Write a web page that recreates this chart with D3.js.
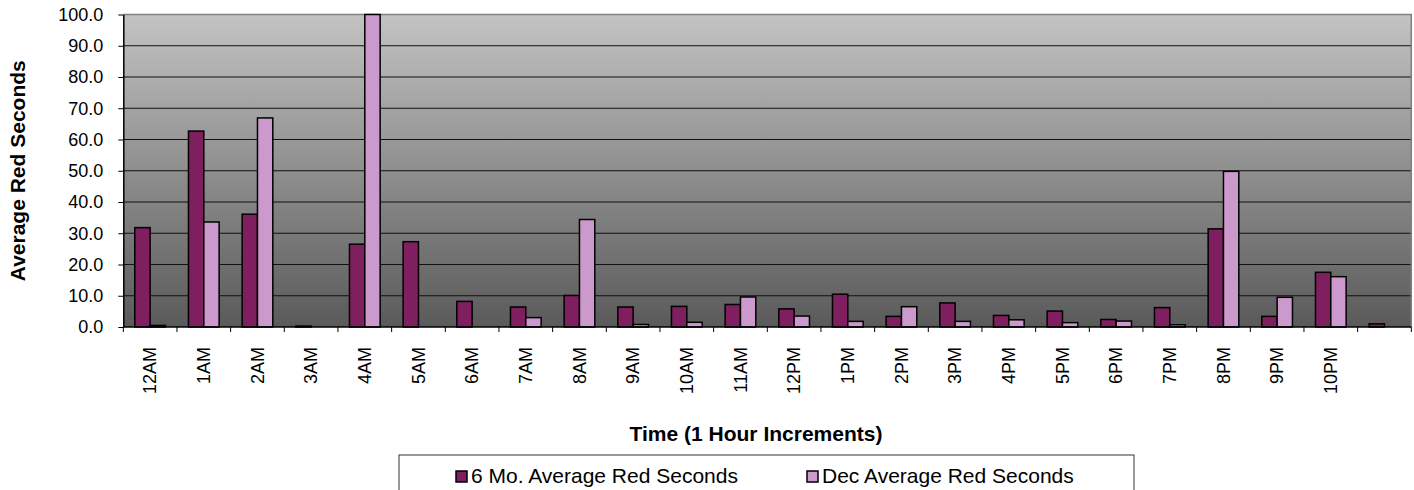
<!DOCTYPE html>
<html>
<head>
<meta charset="utf-8">
<script src="https://cdn.jsdelivr.net/npm/d3@7"></script>
<style>
  body { margin: 0; background: #fff; }
  text { font-family: Arial, "Liberation Sans", sans-serif; }
</style>
</head>
<body>
<svg id="chart" width="1414" height="490"></svg>
<script>
// categories (last hour has no label in the original)
var hours = ["12AM","1AM","2AM","3AM","4AM","5AM","6AM","7AM","8AM","9AM","10AM","11AM",
             "12PM","1PM","2PM","3PM","4PM","5PM","6PM","7PM","8PM","9PM","10PM","11PM"];
var hourLabels = hours.slice(0, 23).concat([""]);

var seriesNames = ["6 Mo. Average Red Seconds", "Dec Average Red Seconds"];
var sixMonth = [31.8, 62.7, 36.1, 0.3, 26.5, 27.3, 8.2, 6.4, 10.1, 6.4, 6.6, 7.2,
                5.8, 10.5, 3.4, 7.7, 3.7, 5.1, 2.4, 6.2, 31.4, 3.4, 17.5, 1.0];
var december = [0.5, 33.6, 66.9, 0, 100.0, 0, 0, 3.0, 34.4, 0.8, 1.5, 9.6,
                3.5, 1.8, 6.5, 1.8, 2.3, 1.4, 1.9, 0.7, 49.8, 9.5, 16.1, 0];
var seriesColors = ["#7f1f5f", "#cc99cc"];
var yTicks = [0, 10, 20, 30, 40, 50, 60, 70, 80, 90, 100];

var svg = d3.select("#chart");
var plotLeft = 123.3, plotRight = 1411.3, plotTop = 14.5, plotBottom = 327;

var x = d3.scaleBand().domain(hours).range([plotLeft, plotRight]).padding(0);
var xs = d3.scaleBand().domain([0, 1]).range([0, x.bandwidth()])
  .paddingInner(0).paddingOuter(0.75);
var y = d3.scaleLinear().domain([0, 100]).range([plotBottom, plotTop]);

// background gradient
var grad = svg.append("defs").append("linearGradient")
  .attr("id", "bg").attr("x1", 0).attr("y1", 0).attr("x2", 0).attr("y2", 1);
grad.append("stop").attr("offset", "0%").attr("stop-color", "#c3c3c3");
grad.append("stop").attr("offset", "100%").attr("stop-color", "#5a5a5a");

svg.append("rect")
  .attr("x", plotLeft).attr("y", plotTop)
  .attr("width", plotRight - plotLeft).attr("height", plotBottom - plotTop)
  .attr("fill", "url(#bg)");

// gridlines
svg.append("g").selectAll("line")
  .data(yTicks.slice(1))
  .enter().append("line")
  .attr("x1", plotLeft).attr("x2", plotRight)
  .attr("y1", d => y(d)).attr("y2", d => y(d))
  .attr("stroke", "#111").attr("stroke-width", 1.2);

// border top/right
svg.append("path")
  .attr("d", "M" + plotLeft + "," + plotTop + "H" + plotRight + "V" + plotBottom)
  .attr("fill", "none").attr("stroke", "#808080").attr("stroke-width", 1.5);

// bars
var rows = hours.map((h, i) => ({ h: h, v: [sixMonth[i], december[i]] }));
var groups = svg.append("g").selectAll("g")
  .data(rows).enter().append("g")
  .attr("transform", d => "translate(" + x(d.h) + ",0)");
groups.selectAll("rect")
  .data(d => d.v.map((v, k) => ({ k: k, v: v })))
  .enter().append("rect")
  .attr("x", d => xs(d.k))
  .attr("width", xs.bandwidth())
  .attr("y", d => y(d.v))
  .attr("height", d => plotBottom - y(d.v))
  .attr("fill", d => seriesColors[d.k])
  .attr("stroke", "#000").attr("stroke-width", 1.5);

// y axis
var yAxis = svg.append("g")
  .attr("transform", "translate(" + plotLeft + ",0)")
  .call(d3.axisLeft(y).tickValues(yTicks).tickFormat(d3.format(".1f"))
    .tickSize(5).tickPadding(15).tickSizeOuter(0));
yAxis.select(".domain").attr("stroke", "#000").attr("stroke-width", 1.5);
yAxis.selectAll(".tick line").attr("stroke", "#000");
yAxis.selectAll(".tick text")
  .attr("font-size", "18px").attr("fill", "#000")
  .style("font-family", "Arial, 'Liberation Sans', sans-serif");

// x axis: ticks at category boundaries
var xAxisG = svg.append("g");
xAxisG.append("line")
  .attr("x1", plotLeft).attr("x2", plotRight)
  .attr("y1", plotBottom).attr("y2", plotBottom)
  .attr("stroke", "#000").attr("stroke-width", 1.5);
xAxisG.selectAll(".xt")
  .data(hours.concat(["end"]))
  .enter().append("line")
  .attr("class", "xt")
  .attr("x1", (d, i) => i < hours.length ? x(d) : plotRight)
  .attr("x2", (d, i) => i < hours.length ? x(d) : plotRight)
  .attr("y1", plotBottom).attr("y2", plotBottom + 5)
  .attr("stroke", "#000").attr("stroke-width", 1);
xAxisG.selectAll(".xl")
  .data(hours)
  .enter().append("text")
  .attr("class", "xl")
  .attr("transform", d => "translate(" + (x(d) + x.bandwidth() / 2) + "," + (plotBottom + 20) + ") rotate(-90)")
  .attr("dy", "0.35em")
  .attr("text-anchor", "end")
  .attr("font-size", "18px")
  .text((d, i) => hourLabels[i]);

// axis titles
svg.append("text")
  .attr("transform", "translate(25," + ((plotTop + plotBottom) / 2) + ") rotate(-90)")
  .attr("text-anchor", "middle")
  .attr("font-size", "21px").attr("font-weight", "bold")
  .text("Average Red Seconds");
svg.append("text")
  .attr("x", 756).attr("y", 441)
  .attr("text-anchor", "middle")
  .attr("font-size", "21px").attr("font-weight", "bold")
  .text("Time (1 Hour Increments)");

// legend
var legend = svg.append("g");
legend.append("rect")
  .attr("x", 399).attr("y", 455).attr("width", 735).attr("height", 60)
  .attr("fill", "#fff").attr("stroke", "#333").attr("stroke-width", 1);
var legendX = [456, 807];
seriesNames.forEach(function (name, k) {
  legend.append("rect")
    .attr("x", legendX[k]).attr("y", 471).attr("width", 11).attr("height", 11)
    .attr("fill", seriesColors[k]).attr("stroke", "#000").attr("stroke-width", 1.5);
  legend.append("text")
    .attr("x", legendX[k] + 15).attr("y", 483)
    .attr("font-size", "21px")
    .text(name);
});
</script>
</body>
</html>
